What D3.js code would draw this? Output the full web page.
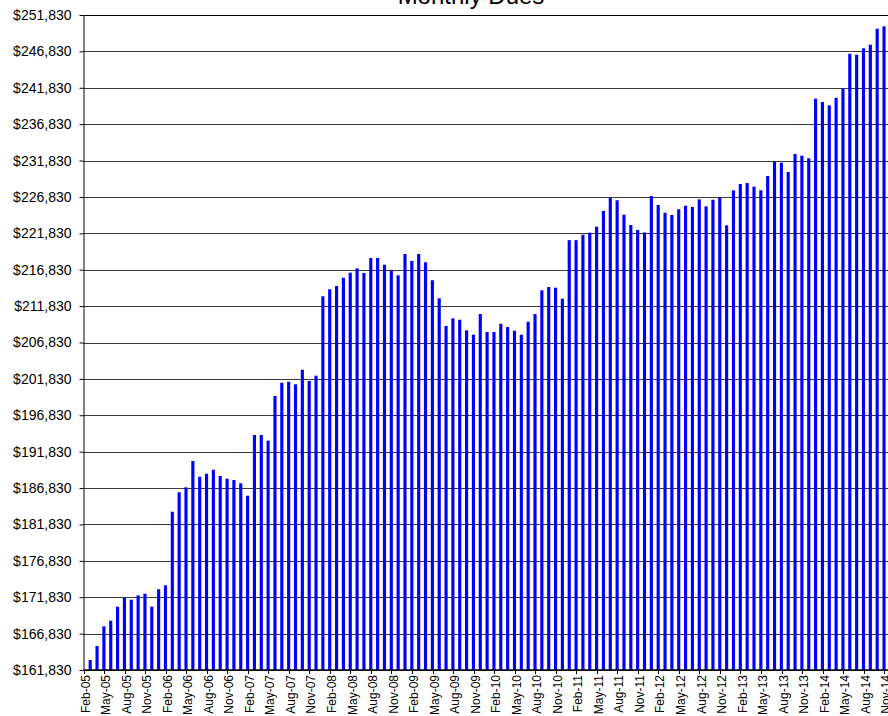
<!DOCTYPE html>
<html>
<head>
<meta charset="utf-8">
<script src="https://cdn.jsdelivr.net/npm/d3@7"></script>
<style>
  html, body { margin: 0; padding: 0; background: #fff; }
  svg { display: block; font-family: "Liberation Sans", Arial, sans-serif; }
</style>
</head>
<body>
<svg id="chart" width="888" height="716"></svg>
<script>
// Month categories: Feb-05 .. Nov-14
const firstMonth = new Date(2005, 1, 1);
const lastMonth = new Date(2014, 11, 1); // exclusive
const months = d3.timeMonth.range(firstMonth, lastMonth).map(d3.timeFormat("%b-%y"));

// Monthly dues, one array per year
const dues2005 = [163200, 165130, 167830, 168600, 170530, 171760, 171490, 172090, 172310, 170530, 172920];
const dues2006 = [173470, 183580, 186250, 186930, 190550, 188390, 188800, 189350, 188490, 188120, 187940, 187480];
const dues2007 = [185780, 194120, 194120, 193340, 199480, 201300, 201440, 201090, 203090, 201540, 202270, 213180];
const dues2008 = [214140, 214590, 215730, 216420, 217020, 216380, 218440, 218440, 217520, 216790, 216060, 218990];
const dues2009 = [218030, 218990, 217850, 215380, 212900, 209100, 210150, 209960, 208500, 207900, 210740, 208270];
const dues2010 = [208270, 209410, 208960, 208450, 207900, 209690, 210740, 214000, 214450, 214360, 212850, 220890];
const dues2011 = [220890, 221640, 221915, 222740, 224900, 226680, 226370, 224390, 222970, 222290, 221950, 226960];
const dues2012 = [225720, 224660, 224350, 225130, 225625, 225450, 226500, 225540, 226450, 226720, 222930, 227740];
const dues2013 = [228610, 228740, 228240, 227740, 229700, 231730, 231530, 230260, 232730, 232500, 232140, 240330];
const dues2014 = [239870, 239420, 240460, 241700, 246510, 246370, 247250, 247750, 249945, 250275, 250500];

const dues = [].concat(dues2005, dues2006, dues2007, dues2008, dues2009,
                       dues2010, dues2011, dues2012, dues2013, dues2014);

// Y tick values
const yMin = 161830, yMax = 251830, yStep = 5000;
const yTicks = d3.range(yMin, yMax + 1, yStep);

const data = months.map((m, i) => ({ month: m, value: dues[i] }));

const svg = d3.select("#chart");

// Plot area (runs a little past the right edge, as in the source)
const plotLeft = 83.5, plotRight = 891, plotTop = 15, plotBottom = 670;

const x = d3.scaleBand().domain(months).range([plotLeft, plotRight]).padding(0);
const y = d3.scaleLinear().domain([yMin, yMax]).range([plotBottom, plotTop]);
const bw = x.bandwidth();

// Gridlines
svg.append("g")
  .selectAll("line")
  .data(yTicks)
  .join("line")
  .attr("x1", plotLeft)
  .attr("x2", 888)
  .attr("y1", d => Math.round(y(d)) + 0.5)
  .attr("y2", d => Math.round(y(d)) + 0.5)
  .attr("stroke", d => d === yMax ? "#000" : "#3a3a3a")
  .attr("stroke-width", 1);

// Bars
svg.append("g")
  .selectAll("rect")
  .data(data)
  .join("rect")
  .attr("x", d => x(d.month) + bw * 0.75)
  .attr("width", bw * 0.46)
  .attr("y", d => y(d.value))
  .attr("height", d => plotBottom - y(d.value))
  .attr("fill", "#0000ff");

// Y axis
const yAxis = d3.axisLeft(y)
  .tickValues(yTicks)
  .tickSize(4)
  .tickSizeOuter(0)
  .tickPadding(8)
  .tickFormat(d => "$" + d3.format(",")(d));

const yG = svg.append("g")
  .attr("transform", `translate(${plotLeft},0)`)
  .call(yAxis);
yG.select(".domain").attr("stroke", "#000");
yG.selectAll(".tick line").attr("stroke", "#000");
yG.selectAll("text")
  .attr("font-size", 14)
  .attr("font-family", "'Liberation Sans', Arial, sans-serif")
  .attr("fill", "#000");

// X axis line
svg.append("line")
  .attr("x1", plotLeft).attr("x2", 888)
  .attr("y1", plotBottom).attr("y2", plotBottom)
  .attr("stroke", "#000")
  .attr("stroke-width", 1.5);

// X tick marks at every third category boundary
const labelMonths = months.filter((m, i) => i % 3 === 0);
svg.append("g")
  .selectAll("line")
  .data(labelMonths)
  .join("line")
  .attr("x1", d => Math.round(x(d)) + 0.5)
  .attr("x2", d => Math.round(x(d)) + 0.5)
  .attr("y1", plotBottom)
  .attr("y2", plotBottom + 4)
  .attr("stroke", "#000");

// X labels, rotated
svg.append("g")
  .selectAll("text")
  .data(labelMonths)
  .join("text")
  .attr("transform", d => `translate(${x(d) + bw / 2 - 1.5},${plotBottom + 5}) rotate(-90)`)
  .attr("dy", "0.35em")
  .attr("text-anchor", "end")
  .attr("font-size", 12)
  .attr("fill", "#000")
  .text(d => d);

// Title (cut off at the top)
svg.append("text")
  .attr("x", 471)
  .attr("y", 4)
  .attr("text-anchor", "middle")
  .attr("font-size", 24)
  .attr("fill", "#000")
  .text("Monthly Dues");
</script>
</body>
</html>
